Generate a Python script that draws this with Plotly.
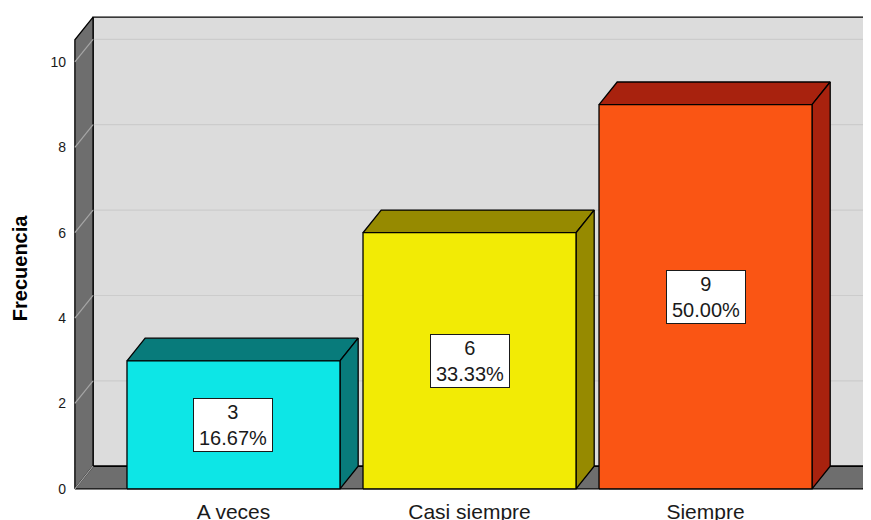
import plotly.graph_objects as go

# data
categories = ["A veces", "Casi siempre", "Siempre"]
frequencies = [3, 6, 9]
percents = [16.67, 33.33, 50.00]
y_ticks = [0, 2, 4, 6, 8, 10]

# colours (front face / top+side face)
front_colors = ["#0DE6E6", "#F2EB05", "#FA5514"]
dark_colors = ["#087B7B", "#968A00", "#A8220E"]

# fake 3d settings, in data units
bar_w = 0.9025
dx = 0.077
dy = 0.53
wall_top = 10.52
x_left = -0.672
x_right = 2.667
x_far = 3.2

wall_color = "#6E6E6E"
back_color = "#DCDCDC"
edge = dict(color="black", width=1.3)


def poly(xs, ys, fill, line=edge):
    return go.Scatter(x=xs + [xs[0]], y=ys + [ys[0]], mode="lines", fill="toself",
                      fillcolor=fill, line=line, hoverinfo="skip", showlegend=False)


fig = go.Figure()

# back wall
fig.add_trace(poly([x_left + dx, x_far, x_far, x_left + dx],
                   [dy, dy, wall_top + dy, wall_top + dy], back_color))

# gridlines on back wall
gx, gy = [], []
for t in y_ticks[1:]:
    gx += [x_left + dx, x_far, None]
    gy += [t + dy, t + dy, None]
fig.add_trace(go.Scatter(x=gx, y=gy, mode="lines", line=dict(color="#CCCCCC", width=1.2),
                         hoverinfo="skip", showlegend=False))

# left wall
fig.add_trace(poly([x_left, x_left, x_left + dx, x_left + dx],
                   [0, wall_top, wall_top + dy, dy], wall_color))
# floor
fig.add_trace(poly([x_left, x_right, x_right + dx, x_left + dx],
                   [0, 0, dy, dy], wall_color))

# gridlines on left wall
lx, ly = [], []
for t in y_ticks[1:]:
    lx += [x_left, x_left + dx, None]
    ly += [t, t + dy, None]
lx += [x_left, x_left + dx, None]
ly += [0, dy, None]
fig.add_trace(go.Scatter(x=lx, y=ly, mode="lines", line=dict(color="#A6A6A6", width=1.2),
                         hoverinfo="skip", showlegend=False))

# bars
for i, v in enumerate(frequencies):
    x0 = i - bar_w / 2
    x1 = i + bar_w / 2
    # top face
    fig.add_trace(poly([x0, x0 + dx, x1 + dx, x1], [v, v + dy, v + dy, v], dark_colors[i]))
    # side face
    fig.add_trace(poly([x1, x1, x1 + dx, x1 + dx], [0, v, v + dy, dy], dark_colors[i]))
    # front face
    fig.add_trace(poly([x0, x1, x1, x0], [0, 0, v, v], front_colors[i]))
    fig.add_annotation(x=i, y=v / 2, text=f"{v}<br>{percents[i]:.2f}%", showarrow=False,
                       font=dict(size=20, color="#1A1A1A"), bgcolor="white",
                       bordercolor="#1A1A1A", borderwidth=1, borderpad=1,
                       width=76, height=50)

fig.add_annotation(text="<b>Frecuencia</b>", textangle=-90, showarrow=False,
                   xref="paper", yref="paper", x=-0.0658, y=0.468,
                   xanchor="center", yanchor="middle",
                   font=dict(size=20, color="black"))

# page body has an 8px margin, so the figure is shifted back by that much
fig.update_layout(
    width=871, height=512,
    margin=dict(l=65, r=0, t=7, b=29),
    paper_bgcolor="white", plot_bgcolor="white",
    font=dict(family="Liberation Sans, Arial, sans-serif", color="#1A1A1A"),
    xaxis=dict(range=[-0.68, 2.735], tickvals=[0, 1, 2], ticktext=categories,
               showgrid=False, zeroline=False, showline=False, ticks="",
               tickfont=dict(size=21), automargin=False, ticklabelstandoff=6),
    yaxis=dict(range=[-0.05, 11.1], tickvals=y_ticks, showgrid=False, zeroline=False,
               showline=False, ticks="", tickfont=dict(size=14), automargin=False,
               ticklabelstandoff=6),
)

fig.write_html("out.html")
